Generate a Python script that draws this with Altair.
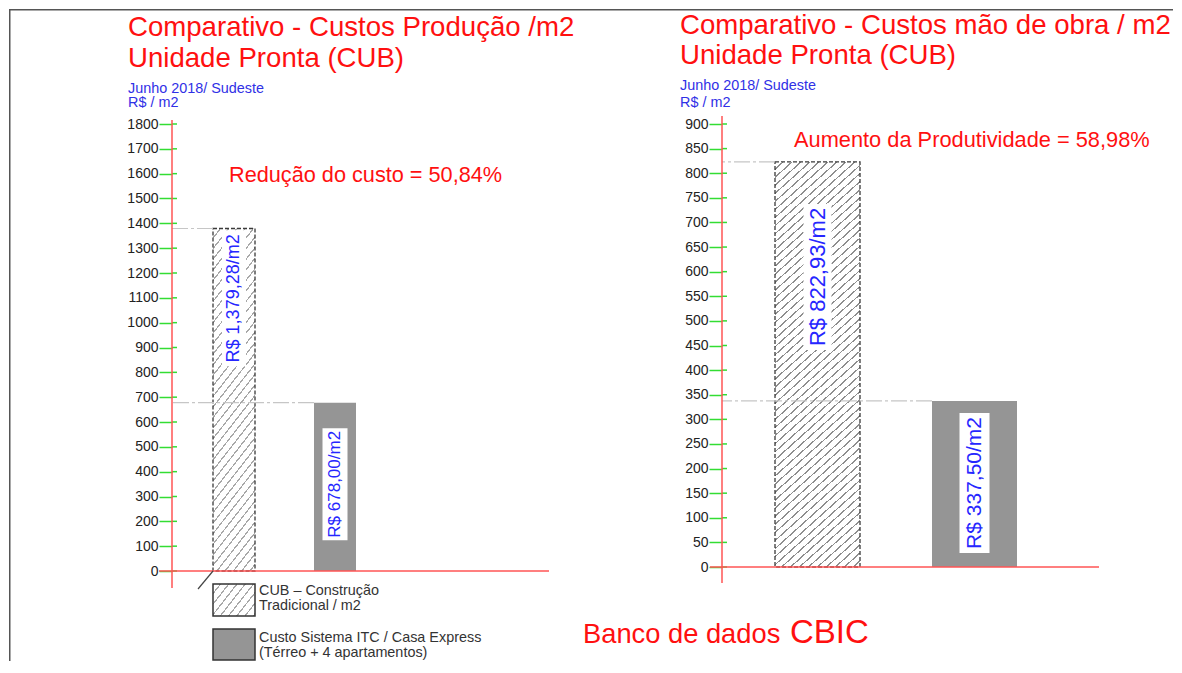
import math
import altair as alt
import pandas as pd

# ---------------- data ----------------
left_cats = ["CUB", "ITC"]
left_values = [1379.28, 678.00]
left_labels = ["R$ 1,379,28/m2", "R$ 678,00/m2"]

right_cats = ["CUB", "ITC"]
right_values = [822.93, 337.50]
right_labels = ["R$ 822,93/m2", "R$ 337,50/m2"]

left_ticks = [0, 100, 200, 300, 400, 500, 600, 700, 800, 900, 1000,
              1100, 1200, 1300, 1400, 1500, 1600, 1700, 1800]
right_ticks = [0, 50, 100, 150, 200, 250, 300, 350, 400, 450, 500,
               550, 600, 650, 700, 750, 800, 850, 900]

left_title = ["Comparativo - Custos Produção /m2", "Unidade Pronta (CUB)"]
right_title = ["Comparativo - Custos mão de obra / m2", "Unidade Pronta (CUB)"]
subtitle = ["Junho 2018/ Sudeste", "R$ / m2"]
left_note = "Redução do custo = 50,84%"
right_note = "Aumento da Produtividade = 58,98%"
legend_texts = [["CUB – Construção", "Tradicional / m2"],
                ["Custo Sistema ITC / Casa Express", "(Térreo + 4 apartamentos)"]]
source_texts = ["Banco de dados", "CBIC"]

# ---------------- styles ----------------
FONT = "Liberation Sans"
RED = "#ff1010"
AXIS_RED = "#ff5555"
GREEN = "#33dd33"
BLUE_LBL = "#2626ff"
BLUE_SUB = "#3030e6"
GRAY_BAR = "#959595"
DARK = "#333333"
GUIDE = "#c6c6c6"

# panel geometry (page pixels of the plot origin) and band layout
L = dict(ox=171, oy=123, w=377, h=447, ymax=1800, s0=41, step=101, bw=42,
         frac=[0.796, 0.515], box_w=[24, 25], box_h=[136, 112], fs=[18, 17],
         hatch=dict(angle=52, period=6.5, lw=1.2, color="#a8a8a8"))
R = dict(ox=721, oy=123, w=377, h=443, ymax=900, s0=53, step=157, bw=85,
         frac=[0.716, 0.506], box_w=[28, 30], box_h=[146, 140], fs=[22, 21],
         hatch=dict(angle=42, period=6.0, lw=1.2, color="#8e8e8e"))


def hatch(W, H, angle, period, lw, color, bg="#ffffff"):
    a = math.radians(angle)
    nx, ny = math.sin(a), math.cos(a)
    D = nx * W + ny * H
    k = D / (nx * nx * W * W + ny * ny * H * H)
    gx, gy = k * nx * W, k * ny * H
    stops = []
    i = 0
    while i * period < D:
        s = i * period / D
        e1 = (i * period + period - lw) / D
        e2 = (i * period + period) / D
        for off, col in [(s, bg), (e1, bg), (e1, color), (e2, color)]:
            if off <= 1:
                stops.append({"offset": round(off, 5), "color": col})
        i += 1
    stops.append({"offset": 1, "color": stops[-1]["color"]})
    return {"gradient": "linear", "x1": 0, "y1": 0, "x2": gx, "y2": gy, "stops": stops}


one = pd.DataFrame({"k": [0]})


def text_mark(txt, x, y, size, color, P, align="left", baseline="alphabetic"):
    return alt.Chart(one).mark_text(
        text=txt, align=align, baseline=baseline, font=FONT, fontSize=size, color=color
    ).encode(x=alt.value(x - P["ox"]), y=alt.value(y - P["oy"]))


def rule_px(P, x, y, x2=None, y2=None, color=DARK, width=1.0):
    enc = dict(x=alt.value(x - P["ox"]), y=alt.value(y - P["oy"]))
    if x2 is not None:
        enc["x2"] = alt.value(x2 - P["ox"])
    if y2 is not None:
        enc["y2"] = alt.value(y2 - P["oy"])
    return alt.Chart(one).mark_rule(color=color, strokeWidth=width).encode(**enc)


def panel(P, cats, values, labels, ticks, extra_layers, yaxis_top, yaxis_bottom, xaxis_left):
    ppu = P["h"] / P["ymax"]
    df = pd.DataFrame({"cat": cats, "value": values, "label": labels})
    df["ly"] = [v * f for v, f in zip(values, P["frac"])]
    df["b0"] = [ly - bh / 2 / ppu for ly, bh in zip(df["ly"], P["box_h"])]
    df["b1"] = [ly + bh / 2 / ppu for ly, bh in zip(df["ly"], P["box_h"])]
    df["bw"] = P["box_w"]
    df["fs"] = P["fs"]

    pi = 1 - P["bw"] / P["step"]
    r0 = P["s0"] - P["step"] * pi / 2
    xs = alt.Scale(domain=cats, paddingInner=pi, paddingOuter=pi / 2,
                   range=[r0, r0 + 2 * P["step"]])
    ys = alt.Scale(domain=[0, P["ymax"]], nice=False, zero=True)
    X = alt.X("cat:N", scale=xs, axis=None)
    yaxis = alt.Axis(values=ticks, format="d", domain=False, ticks=True, tickColor=GREEN,
                     tickSize=13, tickWidth=1.5, labelPadding=1, labelFont=FONT,
                     labelFontSize=14, labelColor="#222222", grid=False, title=None,
                     labelFlush=False, labelOverlap=False)

    def Yq(field):
        return alt.Y(field, scale=ys, axis=yaxis, title=None)

    hgrad = hatch(P["bw"], values[0] * ppu, **P["hatch"])

    base = alt.Chart(df)
    hatched = base.transform_filter(alt.datum.cat == cats[0]).mark_bar(
        fill=hgrad, stroke="#3a3a3a", strokeDash=[4, 2], strokeWidth=1.3
    ).encode(x=X, y=Yq("value:Q"))
    solid = base.transform_filter(alt.datum.cat == cats[1]).mark_bar(
        color=GRAY_BAR
    ).encode(x=X, y=Yq("value:Q"))
    boxes = base.mark_bar(color="white").encode(
        x=X, y=Yq("b0:Q"), y2="b1:Q",
        size=alt.Size("bw:Q", scale=None))
    lbl = base.mark_text(angle=270, font=FONT, color=BLUE_LBL, align="center",
                         baseline="middle").encode(
        x=X, y=Yq("ly:Q"), text="label:N",
        size=alt.Size("fs:Q", scale=None))
    guides = base.mark_rule(color=GUIDE, strokeDash=[16, 3, 3, 3], strokeWidth=1.2).encode(
        x=alt.X("cat:N", scale=xs, axis=None, bandPosition=0), x2=alt.value(0),
        y=Yq("value:Q"))

    tdf = pd.DataFrame({"t": ticks})
    inner = alt.Chart(tdf).mark_rule(color=GREEN, strokeWidth=1.5).encode(
        y=Yq("t:Q"), x=alt.value(0), x2=alt.value(5))

    yline = alt.Chart(one).mark_rule(color=AXIS_RED, strokeWidth=1.5).encode(
        x=alt.value(0), y=alt.value(yaxis_top - P["oy"]), y2=alt.value(yaxis_bottom - P["oy"]))
    xline = alt.Chart(one).mark_rule(color=AXIS_RED, strokeWidth=1.5).encode(
        y=alt.value(P["h"]), x=alt.value(xaxis_left - P["ox"]), x2=alt.value(P["w"]))

    layers = [hatched, solid, boxes, lbl, guides, inner, yline, xline] + extra_layers
    return alt.layer(*layers).properties(width=P["w"], height=P["h"])


# ---------------- left panel extras ----------------
left_extra = [
    # frame
    rule_px(L, 8.75, 8.0, y2=660, color="#555555", width=1.5),
    rule_px(L, 8.0, 8.75, x2=1172, color="#555555", width=1.5),
    text_mark(left_title[0], 127, 35, 27.6, RED, L),
    text_mark(left_title[1], 127, 66, 27.6, RED, L),
    text_mark(subtitle[0], 127, 92, 14.4, BLUE_SUB, L),
    text_mark(subtitle[1], 127, 106, 14.4, BLUE_SUB, L),
    text_mark(left_note, 228, 181, 21.7, RED, L),
    # legend
    alt.Chart(one).mark_rect(fill=hatch(42, 32, 52, 6.5, 1.2, "#a8a8a8"), stroke=DARK,
                             strokeWidth=1.5).encode(
        x=alt.value(212 - L["ox"]), x2=alt.value(254 - L["ox"]),
        y=alt.value(583 - L["oy"]), y2=alt.value(615 - L["oy"])),
    alt.Chart(one).mark_rect(fill=GRAY_BAR, stroke=DARK, strokeWidth=1.5).encode(
        x=alt.value(212 - L["ox"]), x2=alt.value(254 - L["ox"]),
        y=alt.value(628 - L["oy"]), y2=alt.value(659 - L["oy"])),
    rule_px(L, 197, 588, x2=212, y2=570, color="#444444", width=1.2),
    text_mark(legend_texts[0][0], 258, 594, 14.4, DARK, L),
    text_mark(legend_texts[0][1], 258, 609, 14.4, DARK, L),
    text_mark(legend_texts[1][0], 258, 641, 14.4, DARK, L),
    text_mark(legend_texts[1][1], 258, 656, 14.4, DARK, L),
    # source
    text_mark(source_texts[0], 582, 642, 27.3, RED, L),
    text_mark(source_texts[1], 789, 642, 33, RED, L),
]

right_extra = [
    text_mark(right_title[0], 679, 33, 27.6, RED, R),
    text_mark(right_title[1], 679, 63, 27.6, RED, R),
    text_mark(subtitle[0], 679, 89, 14.4, BLUE_SUB, R),
    text_mark(subtitle[1], 679, 106, 14.4, BLUE_SUB, R),
    text_mark(right_note, 793, 146, 21.8, RED, R),
]

left = panel(L, left_cats, left_values, left_labels, left_ticks, left_extra,
             yaxis_top=119, yaxis_bottom=587, xaxis_left=158)
right = panel(R, right_cats, right_values, right_labels, right_ticks, right_extra,
              yaxis_top=115, yaxis_bottom=582, xaxis_left=709)

chart = alt.hconcat(left, right, spacing=R["ox"] - L["ox"] - L["w"], bounds="flush").properties(
    padding=0, background="white"
).configure_view(stroke=None)

chart.save("out.html", embed_options={"renderer": "svg", "actions": False})
